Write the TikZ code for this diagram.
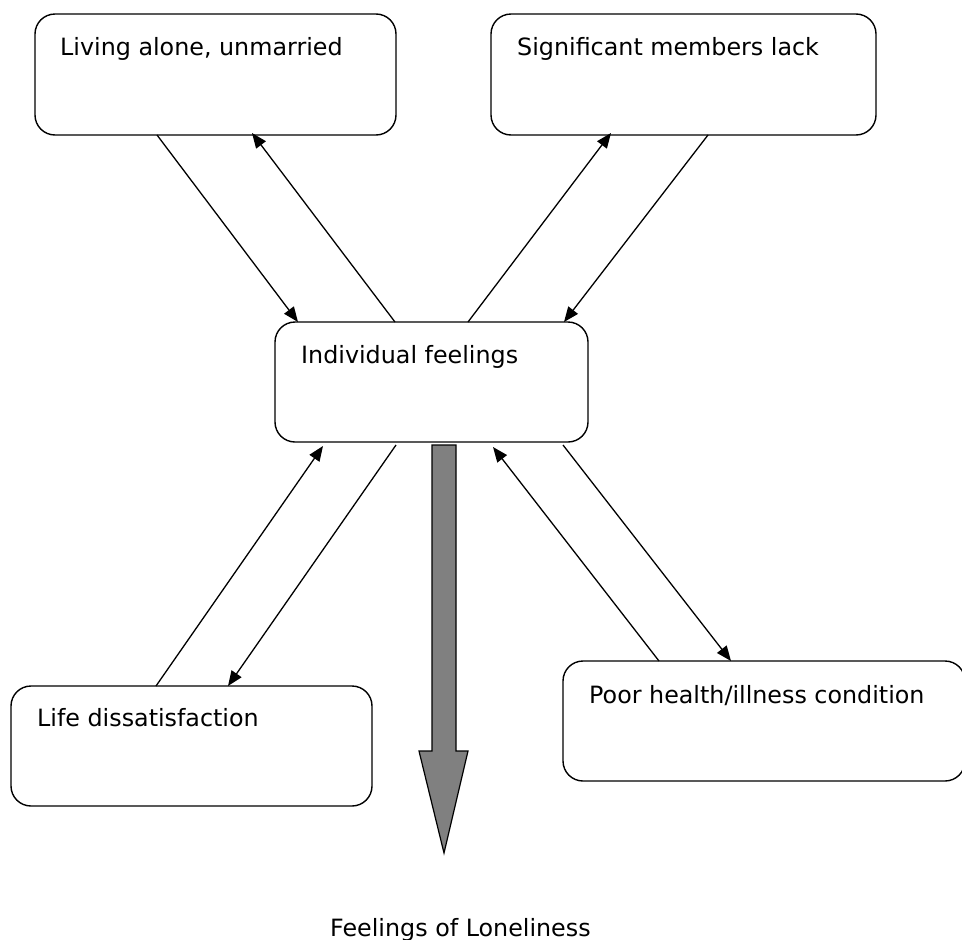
\documentclass[tikz,border=0pt]{standalone}
\usepackage{fontspec}
\setmainfont{DejaVu Sans}
\usetikzlibrary{arrows.meta,calc}
\definecolor{arrowgray}{RGB}{128,128,128}
\begin{document}
\begin{tikzpicture}[x=1pt,y=-1pt,
  rbox/.style={draw,line width=1.4pt,rounded corners=20pt,minimum width=#1,
    inner sep=0pt,outer sep=0pt,anchor=north west},
  lbl/.style={anchor=base west,inner sep=0pt,font=\fontsize{23.8}{28}\selectfont},
  link/.style={line width=1.3pt,-{Triangle[length=15pt,width=12pt]}},
  bigarrow/.style={draw,line width=1.2pt,fill=arrowgray,line join=miter}
]
\useasboundingbox (0,0) rectangle (962,940);
% boxes
\node[rbox=361pt,minimum height=121pt] (b1) at (35,14) {};
\node[rbox=385pt,minimum height=121pt] (b2) at (491,14) {};
\node[rbox=313pt,minimum height=120pt] (b3) at (275,322) {};
\node[rbox=361pt,minimum height=120pt] (b4) at (11,686) {};
\node[rbox=402pt,minimum height=120pt] (b5) at (563,661) {};
% labels
\node[lbl] (t1) at ($(b1.north west)+(25,41)$) {Living alone, unmarried};
\node[lbl] (t2) at ($(b2.north west)+(26,41)$) {Significant members lack};
\node[lbl] (t3) at ($(b3.north west)+(26,41)$) {Individual feelings};
\node[lbl] (t4) at ($(b4.north west)+(26,40)$) {Life dissatisfaction};
\node[lbl] (t5) at ($(b5.north west)+(26,42)$) {Poor health/illness condition};
\node[lbl] (t6) at (330,936) {Feelings of Loneliness};
% connectors
\draw[link] ($(b1.south west)+(122,0)$) -- ($(b3.north west)+(23,0)$);
\draw[link] ($(b3.north west)+(120,0)$) -- ($(b1.south west)+(217,-2)$);
\draw[link] ($(b3.north west)+(193,0)$) -- ($(b2.south west)+(120,-2)$);
\draw[link] ($(b2.south west)+(217,0)$) -- ($(b3.north west)+(289,0)$);
\draw[link] ($(b4.north west)+(145,0)$) -- ($(b3.south west)+(48,4)$);
\draw[link] ($(b3.south west)+(121,3)$) -- ($(b4.north west)+(217,0)$);
\draw[link] ($(b5.north west)+(96,0)$) -- ($(b3.south west)+(218,5)$);
\draw[link] ($(b3.south west)+(288,3)$) -- ($(b5.north west)+(168,0)$);
% big arrow
\draw[bigarrow] ($(b3.south west)+(157,3)$) -- ++(0,306) -- ++(-13,0)
  -- ++(25,102) -- ++(24,-102) -- ++(-12,0) -- ++(0,-306) -- cycle;
\end{tikzpicture}
\end{document}
